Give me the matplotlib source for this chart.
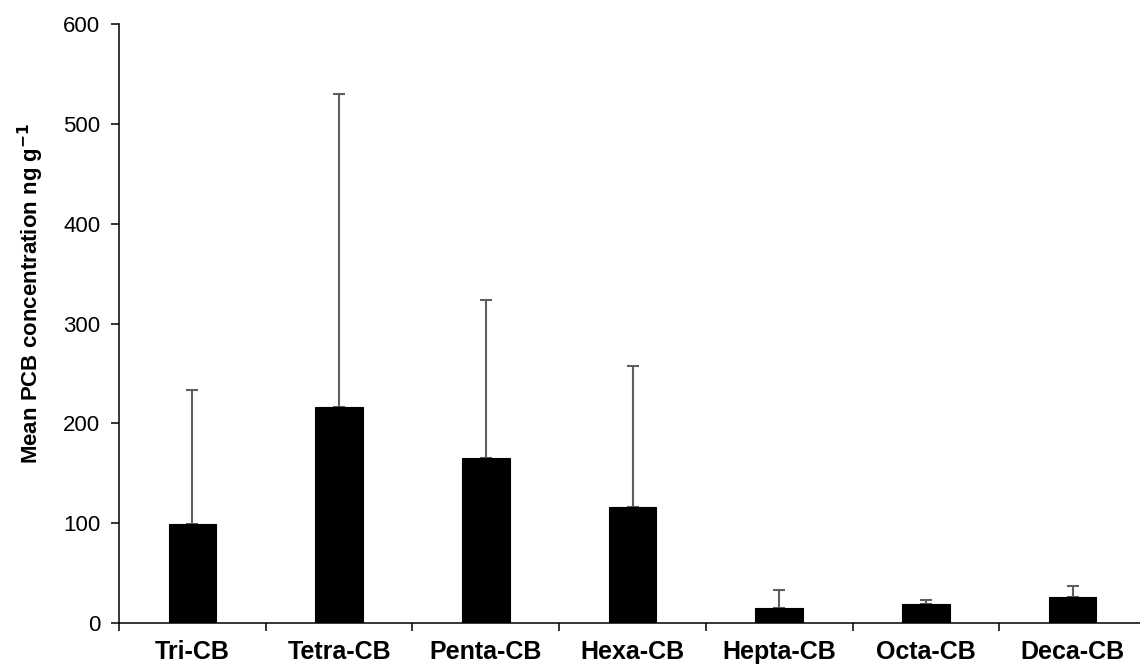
import matplotlib
matplotlib.use("Agg")
import matplotlib.pyplot as plt
import numpy as np

categories = ["Tri-CB", "Tetra-CB", "Penta-CB", "Hexa-CB", "Hepta-CB", "Octa-CB", "Deca-CB"]
means = [99, 216, 165, 116, 15.5, 19, 26.5]
upper_err = [135, 314, 159, 142, 17.5, 4, 11]
y_ticks = [0, 100, 200, 300, 400, 500, 600]

plt.rcParams['font.family'] = ['Liberation Sans', 'DejaVu Sans']

fig = plt.figure(figsize=(11.4, 6.66), dpi=100)
ax = fig.add_axes([119/1140, 1-623/666, 1027/1140, (623-24.3)/666])

x = np.arange(len(categories))
ax.bar(x, means, width=0.325, color='black', edgecolor='black', linewidth=0.8, zorder=2)
ax.errorbar(x, means, yerr=[np.zeros(len(means)), upper_err], fmt='none',
            ecolor='#5f5f5f', elinewidth=1.5, capsize=4.3, capthick=1.5, zorder=1)

ax.set_xlim(-0.5, len(categories) - 0.5)
ax.set_ylim(0, 600)
ax.set_yticks(y_ticks)
ax.set_yticklabels([str(v) for v in y_ticks], fontsize=16)
ax.set_xticks(x)
ax.set_xticklabels(categories, fontsize=18, fontweight='bold')
ax.tick_params(axis='x', which='major', length=0, pad=12)
ax.set_xticks(np.arange(len(categories) + 1) - 0.5, minor=True)
ax.tick_params(axis='x', which='minor', length=6, width=1.1, direction='out')
ax.tick_params(axis='y', length=5.5, width=1.1, direction='out', pad=8)

for s in ['top', 'right']:
    ax.spines[s].set_visible(False)
for s in ['left', 'bottom']:
    ax.spines[s].set_linewidth(1.1)

ax.set_ylabel("Mean PCB concentration ng g$^{\\mathbf{-1}}$", fontsize=16, fontweight='bold')
ax.yaxis.set_label_coords(-0.071, 0.55)

fig.savefig("out.png", dpi=100)
